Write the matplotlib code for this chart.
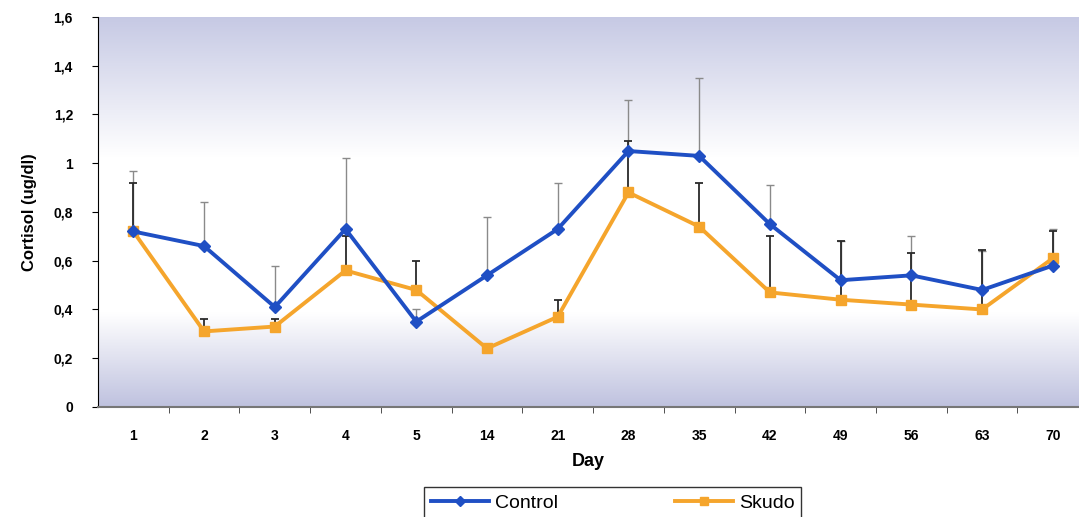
import numpy as np
import matplotlib
matplotlib.use('Agg')
import matplotlib.pyplot as plt
from matplotlib.colors import LinearSegmentedColormap

plt.rcParams['font.family'] = ['Liberation Sans', 'DejaVu Sans']

# Data
days = ['1', '2', '3', '4', '5', '14', '21', '28', '35', '42', '49', '56', '63', '70']
control = [0.72, 0.66, 0.41, 0.73, 0.35, 0.54, 0.73, 1.05, 1.03, 0.75, 0.52, 0.54, 0.48, 0.58]
control_err = [0.25, 0.18, 0.17, 0.29, 0.05, 0.24, 0.19, 0.21, 0.32, 0.16, 0.16, 0.16, 0.16, 0.15]
skudo = [0.72, 0.31, 0.33, 0.56, 0.48, 0.24, 0.37, 0.88, 0.74, 0.47, 0.44, 0.42, 0.40, 0.61]
skudo_err = [0.20, 0.05, 0.03, 0.14, 0.12, 0.02, 0.07, 0.21, 0.18, 0.23, 0.24, 0.21, 0.245, 0.11]
ytick_vals = [0, 0.2, 0.4, 0.6, 0.8, 1.0, 1.2, 1.4, 1.6]
ytick_labels = ['0', '0,2', '0,4', '0,6', '0,8', '1', '1,2', '1,4', '1,6']

fig = plt.figure(figsize=(10.79, 5.17), dpi=100)
ax = fig.add_axes([0.0908, 0.2128, 0.9092, 0.7544])

# background gradient: lavender at top and bottom, white in the middle
cmap = LinearSegmentedColormap.from_list(
    'bg', [(0.0, '#bfc2df'), (0.24, '#ffffff'), (0.64, '#ffffff'), (1.0, '#c6c9e4')])
grad = np.linspace(0, 1, 256).reshape(-1, 1)
ax.imshow(grad, aspect='auto', cmap=cmap, extent=[0, 1, 0, 1],
          transform=ax.transAxes, origin='lower', zorder=0)

x = np.arange(len(days))
ax.errorbar(x, control, yerr=[np.zeros(len(x)), control_err], fmt='none',
            ecolor='#8a8a8a', elinewidth=1.0, capsize=3, capthick=1.0, zorder=2)
ax.errorbar(x, skudo, yerr=[np.zeros(len(x)), skudo_err], fmt='none',
            ecolor='#2a2a2a', elinewidth=1.3, capsize=3, capthick=1.3, zorder=2)
ax.plot(x, skudo, color='#f5a52c', lw=2.8, marker='s', ms=7, label='Skudo', zorder=3)
ax.plot(x, control, color='#1f4fc4', lw=2.8, marker='D', ms=6, label='Control', zorder=4)

ax.set_xlim(-0.5, 13.37)
ax.set_ylim(0, 1.6)
ax.set_yticks(ytick_vals)
ax.set_yticklabels(ytick_labels, fontsize=10, fontweight='bold')
ax.set_xticks(x)
ax.set_xticklabels(days, fontsize=10, fontweight='bold')
ax.set_xticks(x[:-1] + 0.5, minor=True)
ax.tick_params(axis='x', which='major', length=0, pad=16)
ax.tick_params(axis='x', which='minor', length=4, color='#333333')
ax.tick_params(axis='y', length=4, pad=14)

ax.set_xlabel('Day', fontsize=13, fontweight='bold', labelpad=7)
ax.set_ylabel('Cortisol (ug/dl)', fontsize=12, fontweight='bold', labelpad=12)

for side in ['top', 'right']:
    ax.spines[side].set_visible(False)
ax.spines['left'].set_color('black')
ax.spines['bottom'].set_color('#777777')
ax.spines['bottom'].set_linewidth(1.5)

handles, labels = ax.get_legend_handles_labels()
leg = fig.legend(handles[::-1], labels[::-1], loc='lower center', ncol=2,
                 bbox_to_anchor=(0.568, -0.022), fontsize=14, frameon=True,
                 fancybox=False, edgecolor='black', columnspacing=6,
                 handlelength=3.0, handletextpad=0.3, borderpad=0.35,
                 markerscale=0.8)
leg.get_frame().set_linewidth(1.0)

fig.savefig('out.png', dpi=100)
